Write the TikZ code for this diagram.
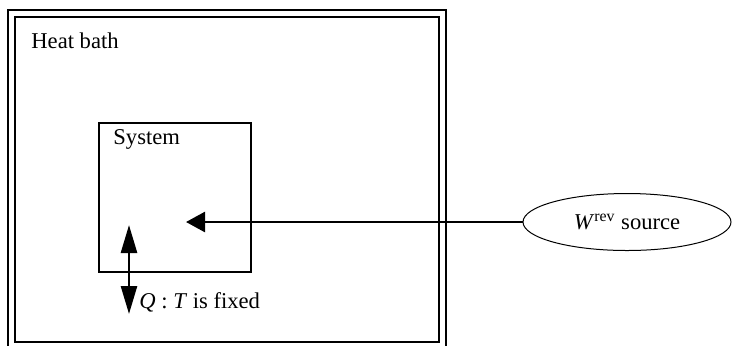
\documentclass[tikz,border=0pt]{standalone}
\usepackage{fontspec}
\setmainfont{Liberation Serif}
\usetikzlibrary{shapes.geometric,arrows.meta}
\begin{document}
\begin{tikzpicture}[x=0.5pt,y=-0.5pt,
  wall/.style={line width=1.3pt},
  lbl/.style={font=\fontsize{11.3pt}{13pt}\selectfont, inner sep=0pt},
  harrow/.style={line width=1.3pt,-{Triangle[length=9.5pt,width=10pt]}},
  varrow/.style={line width=1.3pt,{Triangle[length=14pt,width=8pt]}-{Triangle[length=14pt,width=8pt]}}]
\useasboundingbox (0,0) rectangle (732,345);
% heat bath walls
\coordinate (o1) at (8,346);
\coordinate (o2) at (8,10);
\coordinate (o3) at (446,10);
\coordinate (o4) at (446,346);
\draw[wall] (o1) -- (o2) -- (o3) -- (o4);
\coordinate (i1) at (15,17);
\coordinate (i2) at (439,342);
\draw[wall] (i1) rectangle (i2);
\node[lbl, anchor=west] (bath) at (31,41) {Heat bath};
% system
\node[draw, wall, minimum width=76pt, minimum height=74.5pt, inner sep=0pt] (sys) at (175,197.5) {};
\node[lbl, anchor=west] (syslbl) at (113,139) {System};
% work source
\node[draw, ellipse, line width=0.5pt, minimum width=104pt, minimum height=28.5pt, inner sep=0pt] (src) at (627,222) {};
\node[lbl] (srclbl) at (627,222) {\textit{W}\textsuperscript{rev} source};
\coordinate (tgt) at (186,222);
\draw[harrow] (src.west) -- (tgt);
% heat exchange
\coordinate (q1) at (129,225);
\coordinate (q2) at (129,314);
\draw[varrow] (q1) -- (q2);
\node[lbl, anchor=west] (qlbl) at (139,302) {\textit{Q} : \textit{T} is fixed};
\end{tikzpicture}
\end{document}
